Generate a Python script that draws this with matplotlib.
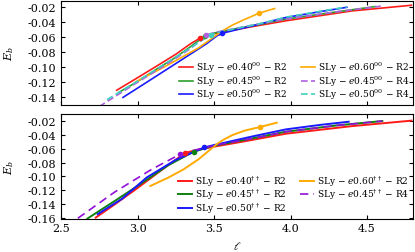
import numpy as np
import matplotlib.pyplot as plt

plt.rcParams['font.family'] = ['DejaVu Serif']
plt.rcParams['mathtext.fontset'] = 'dejavuserif'

# Panel superior: modelos 00
top_red_l = [2.864, 3.0, 3.13, 3.25, 3.344, 3.41, 3.47, 3.53, 3.6, 3.75, 3.97, 4.4, 4.79]
top_red_E = [-0.1305, -0.114, -0.098, -0.083, -0.0695, -0.0615, -0.0575, -0.0545, -0.052, -0.0465, -0.0388, -0.0258, -0.0183]
top_green_l = [2.877, 3.0, 3.13, 3.25, 3.35, 3.44, 3.5, 3.56, 3.65, 3.8, 3.97, 4.3, 4.556]
top_green_E = [-0.1335, -0.119, -0.102, -0.087, -0.0725, -0.059, -0.055, -0.0525, -0.049, -0.0435, -0.0366, -0.027, -0.020]
top_blue_l = [2.905, 3.1, 3.3, 3.45, 3.52, 3.57, 3.65, 3.8, 3.97, 4.2, 4.368]
top_blue_E = [-0.140, -0.1148, -0.0888, -0.0693, -0.0585, -0.0545, -0.0505, -0.043, -0.0344, -0.0265, -0.021]
top_orange_l = [2.987, 3.2, 3.4, 3.5, 3.56, 3.62, 3.7, 3.794, 3.896]
top_orange_E = [-0.1195, -0.097, -0.0745, -0.060, -0.0515, -0.0445, -0.037, -0.0288, -0.0226]
top_purple_l = [2.75, 3.0, 3.2, 3.35, 3.45, 3.52, 3.6, 3.75, 3.97, 4.3, 4.59]
top_purple_E = [-0.152, -0.120, -0.095, -0.075, -0.0575, -0.0535, -0.0505, -0.0445, -0.0366, -0.027, -0.0195]
top_cyan_l = [2.80, 3.0, 3.2, 3.35, 3.48, 3.54, 3.6, 3.8, 3.97, 4.2, 4.368]
top_cyan_E = [-0.143, -0.1185, -0.093, -0.074, -0.057, -0.0535, -0.051, -0.0425, -0.034, -0.026, -0.0205]
top_mark_l = [3.41, 3.44, 3.55, 3.794, 3.45, 3.48]
top_mark_E = [-0.0615, -0.059, -0.0555, -0.0288, -0.0575, -0.057]

# Panel inferior: modelos dagger
bot_red_l = [2.727, 2.85, 3.0, 3.15, 3.31, 3.38, 3.45, 3.52, 3.6, 3.75, 3.97, 4.4, 4.79]
bot_red_E = [-0.160, -0.141, -0.117, -0.092, -0.066, -0.062, -0.059, -0.056, -0.053, -0.047, -0.038, -0.027, -0.019]
bot_green_l = [2.673, 2.85, 3.0, 3.2, 3.366, 3.43, 3.5, 3.58, 3.7, 3.97, 4.3, 4.6]
bot_green_E = [-0.1614, -0.136, -0.114, -0.084, -0.0643, -0.060, -0.0555, -0.052, -0.047, -0.0351, -0.026, -0.0196]
bot_blue_l = [2.74, 2.9, 3.06, 3.25, 3.435, 3.5, 3.56, 3.65, 3.75, 3.97, 4.2, 4.38]
bot_blue_E = [-0.155, -0.1325, -0.1017, -0.076, -0.058, -0.0545, -0.0515, -0.047, -0.042, -0.0317, -0.025, -0.0206]
bot_orange_l = [3.084, 3.2, 3.3, 3.4, 3.47, 3.52, 3.56, 3.62, 3.7, 3.80, 3.91]
bot_orange_E = [-0.114, -0.102, -0.090, -0.075, -0.062, -0.053, -0.047, -0.040, -0.0335, -0.0283, -0.022]
bot_purple_l = [2.61, 2.85, 3.095, 3.28, 3.38, 3.45, 3.55, 3.75, 3.97, 4.3, 4.6]
bot_purple_E = [-0.161, -0.123, -0.0895, -0.0677, -0.0615, -0.058, -0.053, -0.045, -0.0351, -0.026, -0.0196]
bot_mark_l = [3.31, 3.366, 3.435, 3.80, 3.28]
bot_mark_E = [-0.066, -0.0643, -0.058, -0.0283, -0.0677]

top_labels = [r'SLy $-$ $e0.40^{00}$ $-$ R2', r'SLy $-$ $e0.45^{00}$ $-$ R2',
              r'SLy $-$ $e0.50^{00}$ $-$ R2', r'SLy $-$ $e0.60^{00}$ $-$ R2',
              r'SLy $-$ $e0.45^{00}$ $-$ R4', r'SLy $-$ $e0.50^{00}$ $-$ R4']
bot_labels = [r'SLy $-$ $e0.40^{\dagger\dagger}$ $-$ R2', r'SLy $-$ $e0.45^{\dagger\dagger}$ $-$ R2',
              r'SLy $-$ $e0.50^{\dagger\dagger}$ $-$ R2', r'SLy $-$ $e0.60^{\dagger\dagger}$ $-$ R2',
              r'SLy $-$ $e0.45^{\dagger\dagger}$ $-$ R4']

top_colors = ['#ff1a1a', '#2ca02c', '#1a1aff', '#ffaa00', '#b060e0', '#40d0c0']
bot_colors = ['#ff1a1a', '#108010', '#1a1aff', '#ffaa00', '#9010d8']

fig = plt.figure(figsize=(4.15, 2.53), dpi=100)
ax1 = fig.add_axes([0.147, 0.581, 0.848, 0.411])
ax2 = fig.add_axes([0.147, 0.132, 0.848, 0.413], sharex=ax1)

# panel superior
series_top = [(top_red_l, top_red_E), (top_green_l, top_green_E), (top_blue_l, top_blue_E),
              (top_orange_l, top_orange_E), (top_purple_l, top_purple_E), (top_cyan_l, top_cyan_E)]
for i, (l, E) in enumerate(series_top):
    if i >= 4:
        ax1.plot(l, E, color=top_colors[i], lw=1.2, dashes=(4, 2), label=top_labels[i])
    else:
        ax1.plot(l, E, color=top_colors[i], lw=1.2, label=top_labels[i])
for i in range(len(top_mark_l)):
    ax1.plot(top_mark_l[i], top_mark_E[i], 'o', color=top_colors[i], ms=3)

# panel inferior
series_bot = [(bot_red_l, bot_red_E), (bot_green_l, bot_green_E), (bot_blue_l, bot_blue_E),
              (bot_orange_l, bot_orange_E), (bot_purple_l, bot_purple_E)]
for i, (l, E) in enumerate(series_bot):
    if i == 4:
        ax2.plot(l, E, color=bot_colors[i], lw=1.2, dashes=(5, 3), label=bot_labels[i])
    else:
        ax2.plot(l, E, color=bot_colors[i], lw=1.4, label=bot_labels[i])
for i in range(len(bot_mark_l)):
    ax2.plot(bot_mark_l[i], bot_mark_E[i], 'o', color=bot_colors[i], ms=3)

ax1.set_xlim(2.5, 4.8)
ax1.set_ylim(-0.15, -0.0127)
ax2.set_ylim(-0.1615, -0.0095)
ax1.set_yticks(np.arange(-0.14, -0.01, 0.02))
ax2.set_yticks(np.arange(-0.16, -0.01, 0.02))
ax2.set_xticks([2.5, 3.0, 3.5, 4.0, 4.5])

for ax in (ax1, ax2):
    ax.tick_params(direction='in', top=True, right=True, labelsize=8, length=3)
    ax.set_ylabel(r'$E_b$', fontsize=8, labelpad=8)
    ax.yaxis.set_major_formatter(plt.FormatStrFormatter('%.2f'))
    ax.legend(loc='lower right', ncol=2, frameon=False, fontsize=6.5, handlelength=1.6,
              columnspacing=1.5, handletextpad=0.3, labelspacing=-0.1, borderaxespad=0.0)
ax1.tick_params(labelbottom=False)
ax2.set_xlabel(r'$\ell$', fontsize=8)

fig.savefig('out.png', dpi=100)
